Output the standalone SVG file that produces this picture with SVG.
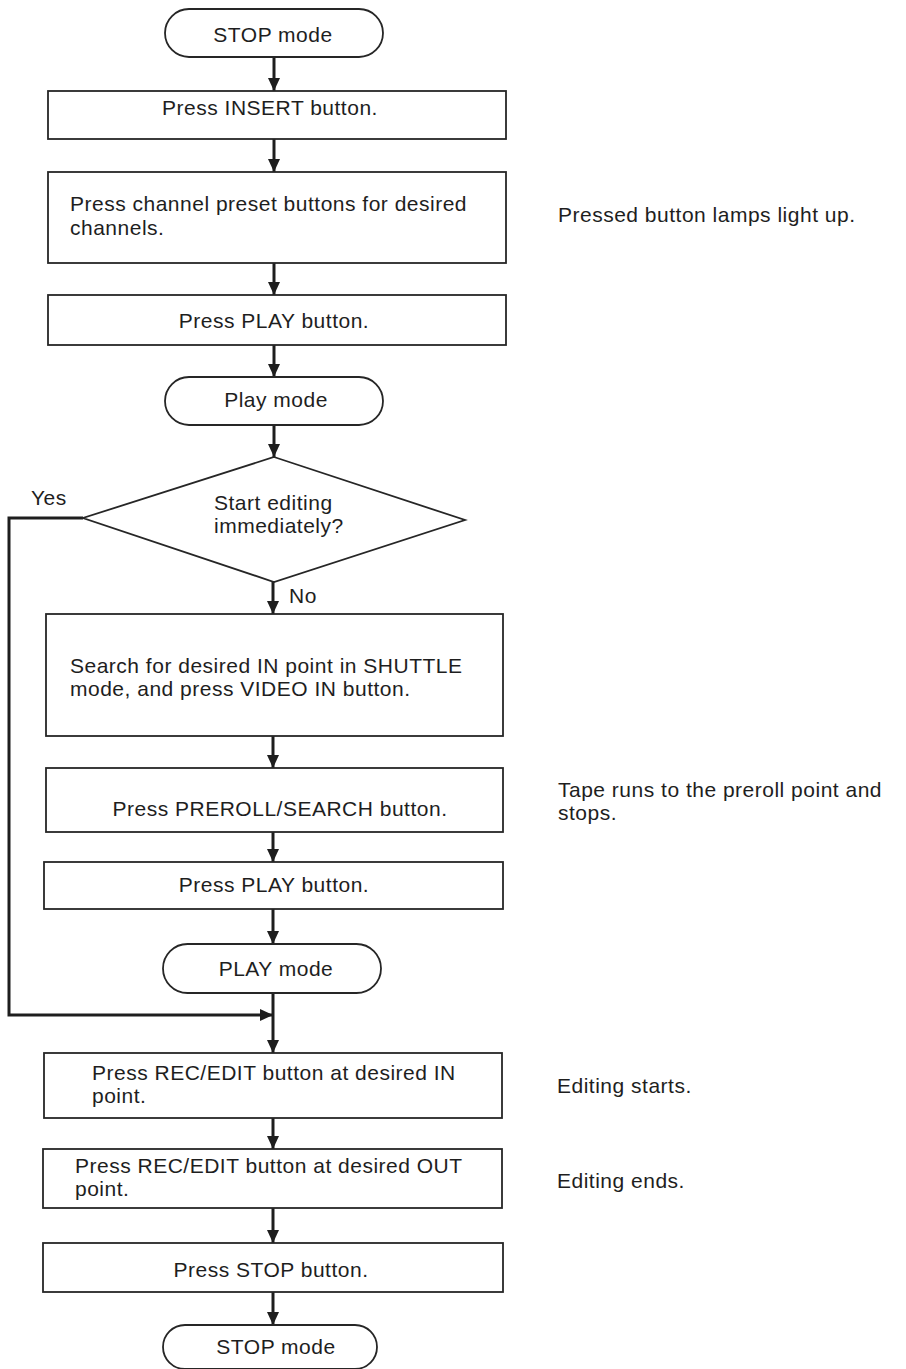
<svg xmlns="http://www.w3.org/2000/svg" width="906" height="1369" viewBox="0 0 906 1369">
  <style>
    .box { fill: #ffffff; stroke: #262626; stroke-width: 1.8; }
    .term { fill: #ffffff; stroke: #262626; stroke-width: 1.8; }
    .wire { fill: none; stroke: #1e1e1e; stroke-width: 3; }
    text { font-family: "Liberation Sans", Arial, Helvetica, sans-serif; font-size: 21px; fill: #1e1e1e; letter-spacing: 0.5px; }
    .c { text-anchor: middle; }
  </style>
  <defs>
    <marker id="arrow" viewBox="0 0 13 13" refX="13" refY="6.5" markerWidth="13" markerHeight="13" markerUnits="userSpaceOnUse" orient="auto">
      <path d="M0,0.5 L13,6.5 L0,12.5 Z" fill="#1e1e1e"/>
    </marker>
  </defs>
  <rect x="0" y="0" width="906" height="1369" fill="#ffffff"/>

  <!-- connectors -->
  <g id="connectors">
    <line class="wire" x1="274" y1="57" x2="274" y2="91" marker-end="url(#arrow)"/>
    <line class="wire" x1="274" y1="139" x2="274" y2="172" marker-end="url(#arrow)"/>
    <line class="wire" x1="274" y1="263" x2="274" y2="295" marker-end="url(#arrow)"/>
    <line class="wire" x1="274" y1="345" x2="274" y2="377" marker-end="url(#arrow)"/>
    <line class="wire" x1="274" y1="425" x2="274" y2="457" marker-end="url(#arrow)"/>
    <line class="wire" x1="273" y1="582" x2="273" y2="614" marker-end="url(#arrow)"/>
    <line class="wire" x1="273" y1="736" x2="273" y2="768" marker-end="url(#arrow)"/>
    <line class="wire" x1="273" y1="832" x2="273" y2="862" marker-end="url(#arrow)"/>
    <line class="wire" x1="273" y1="909" x2="273" y2="944" marker-end="url(#arrow)"/>
    <line class="wire" x1="273" y1="993" x2="273" y2="1053" marker-end="url(#arrow)"/>
    <polyline class="wire" points="83,518 9,518 9,1015 273,1015" marker-end="url(#arrow)"/>
    <line class="wire" x1="273" y1="1118" x2="273" y2="1149" marker-end="url(#arrow)"/>
    <line class="wire" x1="273" y1="1208" x2="273" y2="1243" marker-end="url(#arrow)"/>
    <line class="wire" x1="273" y1="1292" x2="273" y2="1325" marker-end="url(#arrow)"/>
  </g>

  <!-- nodes -->
  <g id="stop-mode-start">
    <rect class="term" x="165" y="9" width="218" height="48" rx="24" ry="24"/>
    <text class="c" x="273" y="42">STOP mode</text>
  </g>
  <g id="press-insert">
    <rect class="box" x="48" y="91" width="458" height="48"/>
    <text class="c" x="270" y="115">Press INSERT button.</text>
  </g>
  <g id="press-channel-preset">
    <rect class="box" x="48" y="172" width="458" height="91"/>
    <text x="70" y="211">Press channel preset buttons for desired</text>
    <text x="70" y="235">channels.</text>
  </g>
  <g id="note-lamps">
    <text x="558" y="222">Pressed button lamps light up.</text>
  </g>
  <g id="press-play-1">
    <rect class="box" x="48" y="295" width="458" height="50"/>
    <text class="c" x="274" y="328">Press PLAY button.</text>
  </g>
  <g id="play-mode-1">
    <rect class="term" x="165" y="377" width="218" height="48" rx="24" ry="24"/>
    <text class="c" x="276" y="407">Play mode</text>
  </g>
  <g id="decision-start-editing">
    <polygon class="box" points="274,457 465,520 274,582 83,518"/>
    <text x="214" y="510">Start editing</text>
    <text x="214" y="533">immediately?</text>
    <text x="31" y="505">Yes</text>
    <text x="289" y="603">No</text>
  </g>
  <g id="search-in-point">
    <rect class="box" x="46" y="614" width="457" height="122"/>
    <text x="70" y="673">Search for desired IN point in SHUTTLE</text>
    <text x="70" y="696">mode, and press VIDEO IN button.</text>
  </g>
  <g id="press-preroll">
    <rect class="box" x="46" y="768" width="457" height="64"/>
    <text class="c" x="280" y="816">Press PREROLL/SEARCH button.</text>
  </g>
  <g id="note-preroll">
    <text x="558" y="797">Tape runs to the preroll point and</text>
    <text x="558" y="820">stops.</text>
  </g>
  <g id="press-play-2">
    <rect class="box" x="44" y="862" width="459" height="47"/>
    <text class="c" x="274" y="892">Press PLAY button.</text>
  </g>
  <g id="play-mode-2">
    <rect class="term" x="163" y="944" width="218" height="49" rx="24.5" ry="24.5"/>
    <text class="c" x="276" y="976">PLAY mode</text>
  </g>
  <g id="press-rec-edit-in">
    <rect class="box" x="44" y="1053" width="458" height="65"/>
    <text x="92" y="1080">Press REC/EDIT button at desired IN</text>
    <text x="92" y="1103">point.</text>
  </g>
  <g id="note-edit-start">
    <text x="557" y="1093">Editing starts.</text>
  </g>
  <g id="press-rec-edit-out">
    <rect class="box" x="43" y="1149" width="459" height="59"/>
    <text x="75" y="1173">Press REC/EDIT button at desired OUT</text>
    <text x="75" y="1196">point.</text>
  </g>
  <g id="note-edit-end">
    <text x="557" y="1188">Editing ends.</text>
  </g>
  <g id="press-stop">
    <rect class="box" x="43" y="1243" width="460" height="49"/>
    <text class="c" x="271" y="1277">Press STOP button.</text>
  </g>
  <g id="stop-mode-end">
    <rect class="term" x="163" y="1325" width="214" height="44" rx="22" ry="22"/>
    <text class="c" x="276" y="1354">STOP mode</text>
  </g>
</svg>
